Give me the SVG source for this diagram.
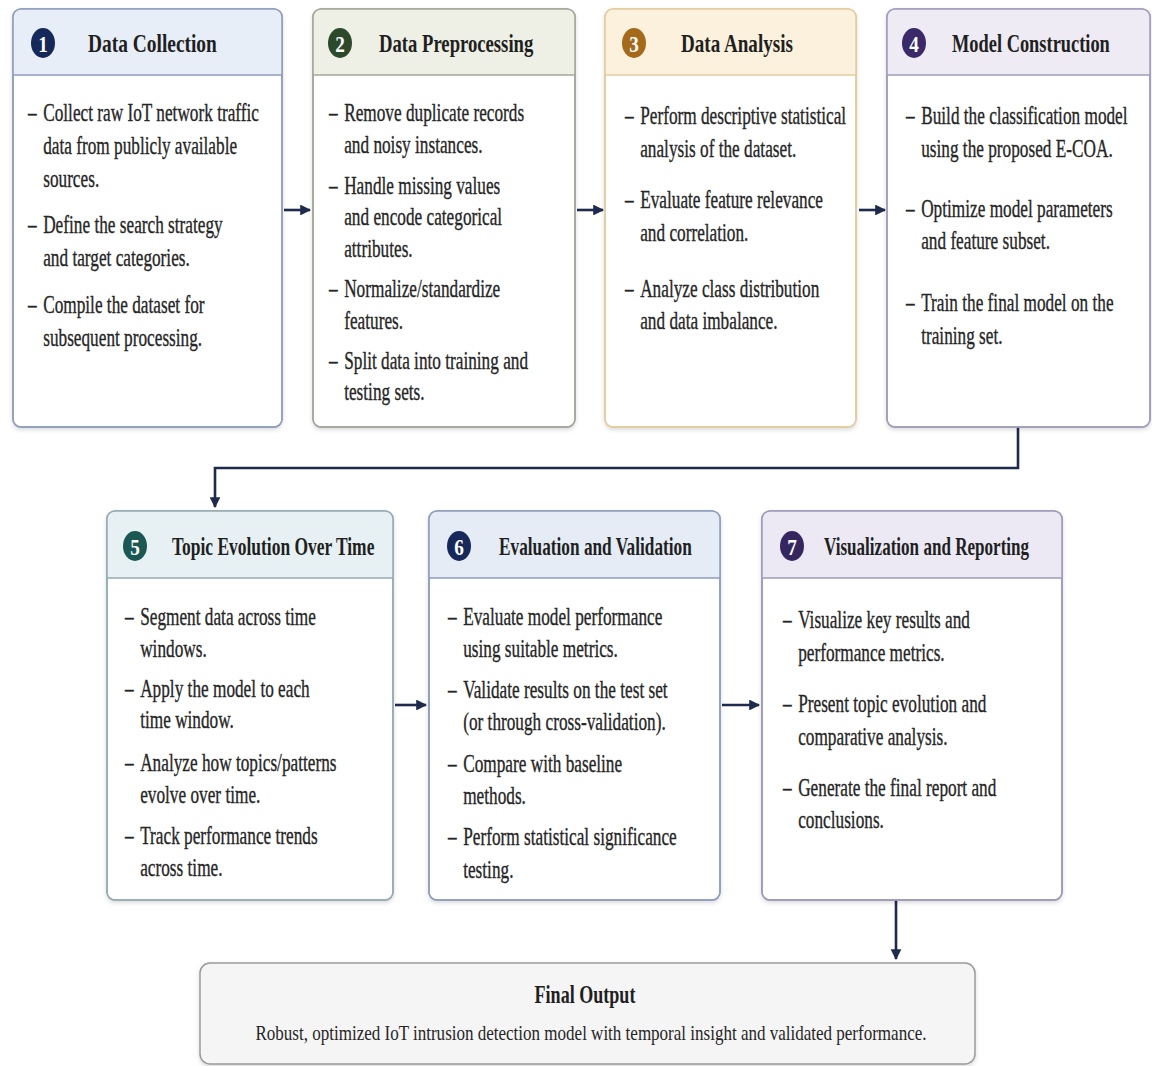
<svg xmlns="http://www.w3.org/2000/svg" width="1152" height="1066" viewBox="0 0 1152 1066">
<style>
text{font-family:"Liberation Serif","Times New Roman",serif;fill:#262626}
.title{font-size:25px;font-weight:bold;fill:#1f1f1f}
.body text{font-size:25px;stroke:#262626;stroke-width:0.35}
.num{font-size:24px;font-weight:bold;fill:#fff;text-anchor:middle}
.card{fill:#fff;stroke-width:1.5}
.sep{stroke-width:1.5}
.conn{fill:none;stroke:#1e2b4d;stroke-width:2.6}
</style>
<defs>
<marker id="ah" viewBox="0 0 10 10" refX="9" refY="5" markerWidth="4.2" markerHeight="4.2" orient="auto" markerUnits="strokeWidth">
<path d="M0,0 L10,5 L0,10 Z" fill="#1e2b4d"/>
</marker>
<filter id="sh" x="-5%" y="-5%" width="110%" height="110%">
<feDropShadow dx="0" dy="2" stdDeviation="2" flood-color="#000" flood-opacity="0.15"/>
</filter>
</defs>
<rect width="1152" height="1066" fill="#ffffff"/>

<g id="connectors">
<line class="conn" x1="284" y1="210" x2="310" y2="210" marker-end="url(#ah)"/>
<line class="conn" x1="577" y1="210" x2="603" y2="210" marker-end="url(#ah)"/>
<line class="conn" x1="859" y1="210" x2="885" y2="210" marker-end="url(#ah)"/>
<polyline class="conn" points="1018,427 1018,468 215,468 215,507" marker-end="url(#ah)"/>
<line class="conn" x1="395" y1="705" x2="426" y2="705" marker-end="url(#ah)"/>
<line class="conn" x1="722" y1="705" x2="759" y2="705" marker-end="url(#ah)"/>
<line class="conn" x1="896" y1="900" x2="896" y2="959" marker-end="url(#ah)"/>
</g>

<g id="node1">
<rect class="card" x="13" y="9" width="269" height="418" rx="8" stroke="#8d9dbd" filter="url(#sh)"/>
<path d="M13,75 V17 Q13,9 21,9 H274 Q282,9 282,17 V75 Z" fill="#e8eef7"/>
<line class="sep" x1="13" y1="75" x2="282" y2="75" stroke="#8d9dbd"/>
<rect x="13" y="9" width="269" height="418" rx="8" fill="none" stroke="#8d9dbd" stroke-width="1.5"/>
<ellipse cx="43" cy="43" rx="12" ry="15" fill="#15285a"/>
<text class="num" transform="translate(43,52) scale(0.8,1)">1</text>
<text class="title" transform="translate(88,52) scale(0.777,1)">Data Collection</text>
<g class="body" transform="translate(28,0) scale(0.69,1)">
<text x="0" y="121">–</text><text x="22" y="121">Collect raw IoT network traffic</text>
<text x="22" y="154">data from publicly available</text>
<text x="22" y="187">sources.</text>
<text x="0" y="233">–</text><text x="22" y="233">Define the search strategy</text>
<text x="22" y="266">and target categories.</text>
<text x="0" y="313">–</text><text x="22" y="313">Compile the dataset for</text>
<text x="22" y="346">subsequent processing.</text>
</g>
</g>

<g id="node2">
<rect class="card" x="313" y="9" width="262" height="418" rx="8" stroke="#a3a799" filter="url(#sh)"/>
<path d="M313,75 V17 Q313,9 321,9 H567 Q575,9 575,17 V75 Z" fill="#eef0e6"/>
<line class="sep" x1="313" y1="75" x2="575" y2="75" stroke="#a3a799"/>
<rect x="313" y="9" width="262" height="418" rx="8" fill="none" stroke="#a3a799" stroke-width="1.5"/>
<ellipse cx="340" cy="43" rx="12" ry="15" fill="#2c4a2b"/>
<text class="num" transform="translate(340,52) scale(0.8,1)">2</text>
<text class="title" transform="translate(379,52) scale(0.747,1)">Data Preprocessing</text>
<g class="body" transform="translate(329,0) scale(0.69,1)">
<text x="0" y="121">–</text><text x="22" y="121">Remove duplicate records</text>
<text x="22" y="153">and noisy instances.</text>
<text x="0" y="194">–</text><text x="22" y="194">Handle missing values</text>
<text x="22" y="225">and encode categorical</text>
<text x="22" y="257">attributes.</text>
<text x="0" y="297">–</text><text x="22" y="297">Normalize/standardize</text>
<text x="22" y="329">features.</text>
<text x="0" y="369">–</text><text x="22" y="369">Split data into training and</text>
<text x="22" y="400">testing sets.</text>
</g>
</g>

<g id="node3">
<rect class="card" x="605" y="9" width="251" height="418" rx="8" stroke="#e2cc9f" filter="url(#sh)"/>
<path d="M605,75 V17 Q605,9 613,9 H848 Q856,9 856,17 V75 Z" fill="#fcf1dc"/>
<line class="sep" x1="605" y1="75" x2="856" y2="75" stroke="#e2cc9f"/>
<rect x="605" y="9" width="251" height="418" rx="8" fill="none" stroke="#e2cc9f" stroke-width="1.5"/>
<ellipse cx="634" cy="43" rx="12" ry="15" fill="#a5691c"/>
<text class="num" transform="translate(634,52) scale(0.8,1)">3</text>
<text class="title" transform="translate(681,52) scale(0.764,1)">Data Analysis</text>
<g class="body" transform="translate(625,0) scale(0.69,1)">
<text x="0" y="124">–</text><text x="22" y="124">Perform descriptive statistical</text>
<text x="22" y="157">analysis of the dataset.</text>
<text x="0" y="208">–</text><text x="22" y="208">Evaluate feature relevance</text>
<text x="22" y="241">and correlation.</text>
<text x="0" y="297">–</text><text x="22" y="297">Analyze class distribution</text>
<text x="22" y="329">and data imbalance.</text>
</g>
</g>

<g id="node4">
<rect class="card" x="887" y="9" width="263" height="418" rx="8" stroke="#a19cb8" filter="url(#sh)"/>
<path d="M887,75 V17 Q887,9 895,9 H1142 Q1150,9 1150,17 V75 Z" fill="#eeebf5"/>
<line class="sep" x1="887" y1="75" x2="1150" y2="75" stroke="#a19cb8"/>
<rect x="887" y="9" width="263" height="418" rx="8" fill="none" stroke="#a19cb8" stroke-width="1.5"/>
<ellipse cx="914" cy="43" rx="12" ry="15" fill="#3a2a6a"/>
<text class="num" transform="translate(914,52) scale(0.8,1)">4</text>
<text class="title" transform="translate(952,52) scale(0.736,1)">Model Construction</text>
<g class="body" transform="translate(906,0) scale(0.69,1)">
<text x="0" y="124">–</text><text x="22" y="124">Build the classification model</text>
<text x="22" y="157">using the proposed E-COA.</text>
<text x="0" y="217">–</text><text x="22" y="217">Optimize model parameters</text>
<text x="22" y="249">and feature subset.</text>
<text x="0" y="311">–</text><text x="22" y="311">Train the final model on the</text>
<text x="22" y="344">training set.</text>
</g>
</g>

<g id="node5">
<rect class="card" x="107" y="511" width="286" height="389" rx="8" stroke="#95aab3" filter="url(#sh)"/>
<path d="M107,578 V519 Q107,511 115,511 H385 Q393,511 393,519 V578 Z" fill="#e7f1f3"/>
<line class="sep" x1="107" y1="578" x2="393" y2="578" stroke="#95aab3"/>
<rect x="107" y="511" width="286" height="389" rx="8" fill="none" stroke="#95aab3" stroke-width="1.5"/>
<ellipse cx="135" cy="546" rx="12" ry="15" fill="#1b5753"/>
<text class="num" transform="translate(135,555) scale(0.8,1)">5</text>
<text class="title" transform="translate(172,555) scale(0.698,1)">Topic Evolution Over Time</text>
<g class="body" transform="translate(125,0) scale(0.69,1)">
<text x="0" y="625">–</text><text x="22" y="625">Segment data across time</text>
<text x="22" y="657">windows.</text>
<text x="0" y="697">–</text><text x="22" y="697">Apply the model to each</text>
<text x="22" y="728">time window.</text>
<text x="0" y="771">–</text><text x="22" y="771">Analyze how topics/patterns</text>
<text x="22" y="803">evolve over time.</text>
<text x="0" y="844">–</text><text x="22" y="844">Track performance trends</text>
<text x="22" y="876">across time.</text>
</g>
</g>

<g id="node6">
<rect class="card" x="429" y="511" width="291" height="389" rx="8" stroke="#8d9dbd" filter="url(#sh)"/>
<path d="M429,578 V519 Q429,511 437,511 H712 Q720,511 720,519 V578 Z" fill="#e5ecf6"/>
<line class="sep" x1="429" y1="578" x2="720" y2="578" stroke="#8d9dbd"/>
<rect x="429" y="511" width="291" height="389" rx="8" fill="none" stroke="#8d9dbd" stroke-width="1.5"/>
<ellipse cx="459" cy="546" rx="12" ry="15" fill="#16295a"/>
<text class="num" transform="translate(459,555) scale(0.8,1)">6</text>
<text class="title" transform="translate(499,555) scale(0.691,1)">Evaluation and Validation</text>
<g class="body" transform="translate(448,0) scale(0.69,1)">
<text x="0" y="625">–</text><text x="22" y="625">Evaluate model performance</text>
<text x="22" y="657">using suitable metrics.</text>
<text x="0" y="698">–</text><text x="22" y="698">Validate results on the test set</text>
<text x="22" y="730">(or through cross-validation).</text>
<text x="0" y="772">–</text><text x="22" y="772">Compare with baseline</text>
<text x="22" y="804">methods.</text>
<text x="0" y="845">–</text><text x="22" y="845">Perform statistical significance</text>
<text x="22" y="878">testing.</text>
</g>
</g>

<g id="node7">
<rect class="card" x="762" y="511" width="300" height="389" rx="8" stroke="#9e98b8" filter="url(#sh)"/>
<path d="M762,578 V519 Q762,511 770,511 H1054 Q1062,511 1062,519 V578 Z" fill="#ece9f5"/>
<line class="sep" x1="762" y1="578" x2="1062" y2="578" stroke="#9e98b8"/>
<rect x="762" y="511" width="300" height="389" rx="8" fill="none" stroke="#9e98b8" stroke-width="1.5"/>
<ellipse cx="792" cy="546" rx="12" ry="15" fill="#35265f"/>
<text class="num" transform="translate(792,555) scale(0.8,1)">7</text>
<text class="title" transform="translate(824,555) scale(0.683,1)">Visualization and Reporting</text>
<g class="body" transform="translate(783,0) scale(0.69,1)">
<text x="0" y="628">–</text><text x="22" y="628">Visualize key results and</text>
<text x="22" y="661">performance metrics.</text>
<text x="0" y="712">–</text><text x="22" y="712">Present topic evolution and</text>
<text x="22" y="745">comparative analysis.</text>
<text x="0" y="796">–</text><text x="22" y="796">Generate the final report and</text>
<text x="22" y="828">conclusions.</text>
</g>
</g>

<g id="final">
<rect x="200" y="963" width="775" height="101" rx="10" fill="#f5f5f5" stroke="#9a9a9a" stroke-width="1.5" filter="url(#sh)"/>
<text class="title" text-anchor="middle" transform="translate(585,1003) scale(0.723,1)">Final Output</text>
<text x="591" y="1040" font-size="22" text-anchor="middle" textLength="671" lengthAdjust="spacingAndGlyphs">Robust, optimized IoT intrusion detection model with temporal insight and validated performance.</text>
</g>
</svg>
